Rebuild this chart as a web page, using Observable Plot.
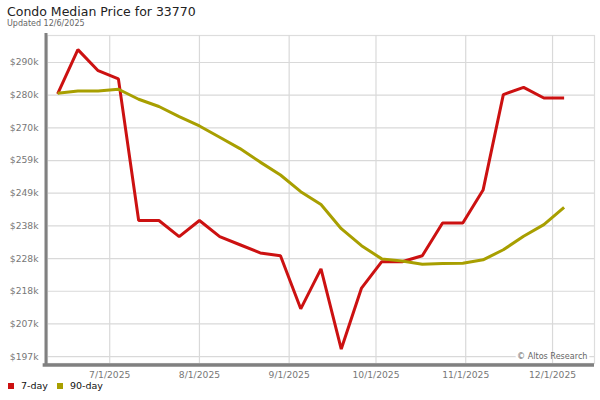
<!DOCTYPE html>
<html><head><meta charset="utf-8">
<script src="https://cdn.jsdelivr.net/npm/d3@7"></script>
<script src="https://cdn.jsdelivr.net/npm/@observablehq/plot@0.6"></script>
<style>
body{margin:0;background:#fff;font-family:"DejaVu Sans",sans-serif;}
#wrap{position:relative;width:600px;height:400px;overflow:hidden;background:#fff;}
#title{position:absolute;left:7px;top:4px;font-size:12.5px;color:#222;white-space:nowrap;z-index:2;}
#sub{position:absolute;left:7px;top:19px;font-size:8px;color:#666;white-space:nowrap;z-index:2;}
#chart{position:absolute;left:0;top:0;}
#legend{position:absolute;left:8px;top:380px;font-size:9.5px;color:#111;white-space:nowrap;}
#legend span.sw{display:inline-block;width:6px;height:6px;margin-right:7px;vertical-align:0px;}
#legend span.it{margin-right:9px;}
</style></head><body>
<div id="wrap">
  <div id="title">Condo Median Price for 33770</div>
  <div id="sub">Updated 12/6/2025</div>
  <div id="chart"></div>
  <div id="legend"></div>
</div>
<script>
const dates = ["2025-06-13","2025-06-20","2025-06-27","2025-07-04","2025-07-11","2025-07-18","2025-07-25",
  "2025-08-01","2025-08-08","2025-08-15","2025-08-22","2025-08-29","2025-09-05","2025-09-12","2025-09-19",
  "2025-09-26","2025-10-03","2025-10-10","2025-10-17","2025-10-24","2025-10-31","2025-11-07","2025-11-14",
  "2025-11-21","2025-11-28","2025-12-05"];
// values in $ thousands
const sevenDay = [280.8,294.9,288.2,285.6,240.5,240.5,235.4,240.5,235.4,232.8,230.2,229.3,212.4,225.1,199.6,
  219.0,227.4,227.4,229.3,239.7,239.7,250.2,280.6,282.9,279.5,279.5];
const ninetyDay = [281.0,281.7,281.7,282.3,279.1,276.8,273.6,270.6,267.0,263.4,259.1,255.0,249.7,245.6,237.9,
  232.5,228.3,227.6,226.6,226.8,226.9,228.0,231.2,235.5,239.2,244.7];
const seriesNames = ["7-day","90-day"];
const seriesColors = ["#cc1111","#a89f00"];
const yTicks = [197.2,207.6,218.0,228.4,238.8,249.2,259.6,270.0,280.4,290.8];
const yTickLabels = ["$197k","$207k","$218k","$228k","$238k","$249k","$259k","$270k","$280k","$290k"];
const xTicks = ["2025-07-01","2025-08-01","2025-09-01","2025-10-01","2025-11-01","2025-12-01"];
const xTickLabels = ["7/1/2025","8/1/2025","9/1/2025","10/1/2025","11/1/2025","12/1/2025"];
const xDomain = ["2025-06-09T12:00","2025-12-15T12:00"];
const yDomain = [195, 299.4];

const parse = s => new Date(s + (s.length === 10 ? "T00:00" : ""));
const rows = [];
dates.forEach((d, i) => {
  rows.push({date: parse(d), value: sevenDay[i], series: seriesNames[0]});
  rows.push({date: parse(d), value: ninetyDay[i], series: seriesNames[1]});
});
const xT = xTicks.map(parse);
const xLab = new Map(xT.map((d, i) => [+d, xTickLabels[i]]));
const yLab = new Map(yTicks.map((v, i) => [v, yTickLabels[i]]));

const chart = Plot.plot({
  width: 600, height: 385,
  marginTop: 35, marginBottom: 22, marginLeft: 47, marginRight: 6,
  style: {fontFamily: "DejaVu Sans, sans-serif", background: "transparent"},
  x: {type: "time", domain: xDomain.map(parse), label: null},
  y: {domain: yDomain, label: null},
  color: {domain: seriesNames, range: seriesColors},
  marks: [
    Plot.frame({stroke: "#dddddd", strokeWidth: 1.2}),
    Plot.gridY(yTicks, {stroke: "#d9d9d9", strokeOpacity: 1, strokeWidth: 1.2}),
    Plot.text(["© Altos Research"], {frameAnchor: "bottom-right", dx: -7, dy: -5, fontSize: 8.1,
      fill: "white", stroke: "white", strokeWidth: 5, textAnchor: "end"}),
    Plot.gridX(xT, {stroke: "#d9d9d9", strokeOpacity: 1, strokeWidth: 1.2}),
    Plot.text(["© Altos Research"], {frameAnchor: "bottom-right", dx: -7, dy: -5, fontSize: 8.1,
      fill: "#666", textAnchor: "end"}),
    Plot.axisY(yTicks, {tickSize: 0, tickPadding: 9, fontSize: 9.2, fill: "#777", label: null,
      tickFormat: v => yLab.get(v)}),
    Plot.axisX(xT, {tickSize: 0, tickPadding: 8, fontSize: 9.2, fill: "#777", label: null,
      tickFormat: d => xLab.get(+d)}),
    Plot.line(rows, {x: "date", y: "value", z: "series", stroke: "series", strokeWidth: 3,
      strokeLinejoin: "miter", strokeLinecap: "butt", sort: {channel: "z", reverse: true}}),
    Plot.ruleY([yDomain[0]], {stroke: "#808080", strokeWidth: 3.5, dy: 1.5, x1: parse("2025-06-08"), x2: parse(xDomain[1])}),
    Plot.ruleX([parse(xDomain[0])], {stroke: "#808080", strokeWidth: 3, dx: -1.5, y1: yDomain[0] - 0.9, y2: yDomain[1] + 0.6})
  ]
});
document.getElementById("chart").appendChild(chart);

const lg = document.getElementById("legend");
seriesNames.forEach((n, i) => {
  const sw = document.createElement("span");
  sw.className = "sw"; sw.style.background = seriesColors[i];
  const t = document.createElement("span");
  t.className = "it"; t.textContent = n;
  lg.appendChild(sw); lg.appendChild(t);
});
</script>
</body></html>
